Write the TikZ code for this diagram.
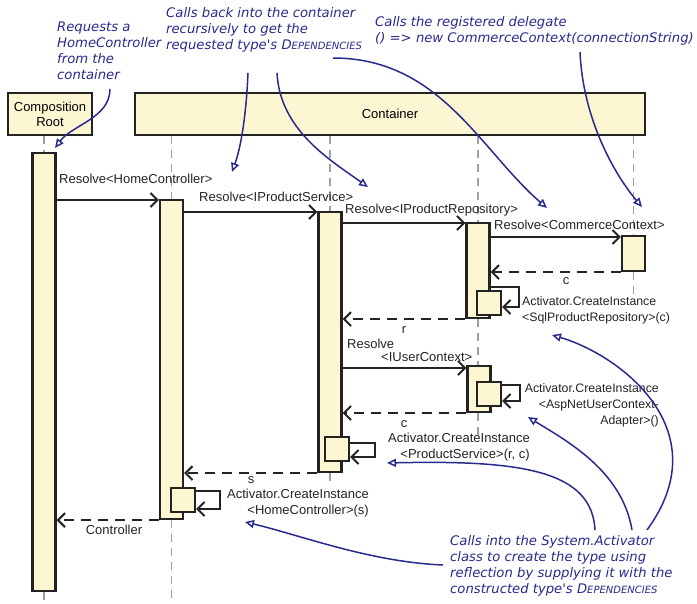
\documentclass[tikz,border=0pt]{standalone}
\usepackage{fontspec}
\setmainfont{Liberation Sans}
\newfontfamily\notefont{DejaVu Sans}
\usetikzlibrary{arrows.meta,positioning}

\definecolor{barfill}{RGB}{253,246,211}
\definecolor{notecol}{RGB}{40,42,140}
\definecolor{edgecol}{RGB}{35,35,35}

\newcommand{\Deps}{D{\fontsize{10}{10}\selectfont EPENDENCIES}}

\tikzset{
  head/.style={draw=edgecol, line width=2.4pt, fill=barfill, align=center, inner sep=0pt,
    font=\fontsize{13}{15}\selectfont},
  bar/.style={draw=edgecol, line width=2.2pt, fill=barfill, minimum width=23pt, inner sep=0pt},
  lifeline/.style={draw=gray!75, line width=1.6pt, dash pattern=on 8pt off 6pt},
  msg/.style={draw=edgecol, line width=2pt, -{Straight Barb[length=7pt,width=14pt]}},
  ret/.style={msg, dash pattern=on 10pt off 7pt},
  lbl/.style={font=\fontsize{13}{16}\selectfont, inner sep=0pt, text=edgecol},
  lblsm/.style={lbl, font=\fontsize{12.3}{16}\selectfont},
  note/.style={font=\notefont\itshape\fontsize{13.2}{16}\selectfont, text=notecol, align=left, inner sep=0pt},
  pointer/.style={draw=notecol, line width=1.5pt, -{Triangle[open,length=9pt,width=8pt]}}
}

\begin{document}
\begin{tikzpicture}[x=1pt, y=-1pt]
    \useasboundingbox (0,0) rectangle (697,604);

    % headers
    \node[head, minimum width=84pt, minimum height=42pt] (crhead) at (50,114) {Composition\\Root};
    \node[head, minimum width=510pt, minimum height=42pt] (conthead) at (390,114) {Container};

    % activation bars
    \node[bar, minimum height=438pt] (crbar) at (44,372) {};
    \node[bar, minimum height=319pt] (hcbar) at (171.5,359.5) {};
    \node[bar, minimum height=260pt] (psbar) at (330,342) {};
    \node[bar, minimum height=95pt] (prbar) at (478,270.5) {};
    \node[bar, minimum height=35pt] (ccbar) at (633.5,253.5) {};
    \node[bar, minimum height=46pt] (ucbar) at (479,389) {};

    % lifelines
    \draw[lifeline] (crbar.center |- crhead.south) -- (crbar.north);
    \draw[lifeline] (crbar.south) -- (crbar.center |- 0,604);
    \draw[lifeline] (hcbar.center |- conthead.south) -- (hcbar.north);
    \draw[lifeline] (hcbar.south) -- (hcbar.center |- 0,604);
    \draw[lifeline] (psbar.center |- conthead.south) -- (psbar.north);
    \draw[lifeline] (psbar.south) -- (psbar.center |- 0,485);
    \draw[lifeline] (prbar.center |- conthead.south) -- (prbar.north);
    \draw[lifeline] (prbar.south) -- (ucbar.north -| prbar.center);
    \draw[lifeline] (ucbar.south -| prbar.center) -- (prbar.center |- 0,437);
    \draw[lifeline] (ccbar.center |- conthead.south) -- (ccbar.north);
    \draw[lifeline] (ccbar.south) -- (ccbar.center |- 0,295);

    % self calls
    \node[bar, minimum width=24pt, minimum height=24pt] (prself) at (489,303) {};
    \node[bar, minimum width=24pt, minimum height=24pt] (ucself) at (489,394) {};
    \node[bar, minimum width=24pt, minimum height=24pt] (psself) at (337,449) {};
    \node[bar, minimum width=24pt, minimum height=24pt] (hcself) at (183,500) {};
    \draw[msg] (prbar.east |- 0,287) -- ++(28,0) -- ++(0,20) -- (prself.east |- 0,307);
    \draw[msg] (ucself.east |- 0,385) -- ++(18,0) -- ++(0,16) -- (ucself.east |- 0,401);
    \draw[msg] (psself.east |- 0,443) -- ++(25,0) -- ++(0,14) -- (psself.east |- 0,457);
    \draw[msg] (hcself.east |- 0,491) -- ++(24,0) -- ++(0,18) -- (hcself.east |- 0,509);

    % calls and returns
    \draw[msg] (crbar.east |- 0,200) -- (hcbar.west |- 0,200);
    \draw[msg] (hcbar.east |- 0,212) -- (psbar.west |- 0,212);
    \draw[msg] (psbar.east |- 0,223) -- (prbar.west |- 0,223);
    \draw[msg] (prbar.east |- 0,237) -- (ccbar.west |- 0,237);
    \draw[ret] (ccbar.south west) -- (prbar.east |- ccbar.south);
    \draw[ret] (prbar.south west) -- (psbar.east |- prbar.south);
    \draw[msg] (psbar.east |- 0,368) -- (ucbar.west |- 0,368);
    \draw[ret] (ucbar.west |- 0,413) -- (psbar.east |- 0,413);
    \draw[ret] (psbar.south west) -- (hcbar.east |- psbar.south);
    \draw[ret] (hcbar.south west) -- (crbar.east |- hcbar.south);

    % message labels
    \node[lbl, anchor=west] (l1) at (59,179) {Resolve<HomeController>};
    \node[lbl, anchor=west] (l2) at (199,197) {Resolve<IProductService>};
    \node[lbl, anchor=west] (l3) at (345,210) {Resolve<IProductRepository>};
    \node[lbl, anchor=west] (l4) at (494,225) {Resolve<CommerceContext>};
    \node[lbl] (lc1) at (566,281) {c};
    \node[lblsm, anchor=north west, align=left] (l5) at (522,296)
        {Activator.CreateInstance\\<SqlProductRepository>(c)};
    \node[lbl] (lr) at (404,330) {r};
    \node[lbl, anchor=west] (l6) at (347,344) {Resolve};
    \node[lbl, anchor=west] (l6b) at (381,357) {<IUserContext>};
    \node[lblsm, anchor=north east, align=right] (l7) at (659,383)
        {Activator.CreateInstance\\<AspNetUserContext-\\Adapter>()};
    \node[lbl] (lc2) at (404,424) {c};
    \node[lbl, anchor=north east, align=right] (l8) at (530,433)
        {Activator.CreateInstance\\<ProductService>(r, c)};
    \node[lbl] (ls) at (251,480) {s};
    \node[lbl, anchor=north east, align=right] (l9) at (369,489)
        {Activator.CreateInstance\\<HomeController>(s)};
    \node[lbl] (lctrl) at (114,530) {Controller};

    % annotations
    \node[note, anchor=north west] (n1) at (57,22) {Requests a\\HomeController\\from the\\container};
    \node[note, anchor=north west] (n2) at (166,7)
        {Calls back into the container\\recursively to get the\\requested type's \Deps};
    \node[note, anchor=north west] (n3) at (375,16)
        {Calls the registered delegate\\() => new CommerceContext(connectionString)};
    \node[note, anchor=north west] (n4) at (450,535)
        {Calls into the System.Activator\\class to create the type using\\reflection by supplying it with the\\constructed type's \Deps};

    \coordinate (n1out) at (110,89);
    \coordinate (n2outa) at (248,73);
    \coordinate (n2outb) at (277,73);
    \coordinate (n2outc) at (333,58);
    \coordinate (n3out) at (580,52);
    \coordinate (n4outa) at (443,565);
    \coordinate (n4outb) at (595,530);
    \coordinate (n4outc) at (632,530);
    \coordinate (n4outd) at (647,530);
    \coordinate (crtop) at (55,148);
    \coordinate (l2tip) at (232,172);
    \coordinate (l3tip) at (368,187);
    \coordinate (l4tip) at (547,208);
    \coordinate (cctip) at (642,207);
    \coordinate (l9tip) at (245,522);
    \coordinate (l8tip) at (387,463);
    \coordinate (l7tip) at (528,417);
    \coordinate (l5tip) at (552,335);

    \draw[pointer] (n1out) .. controls (110,118) and (72,125) .. (crtop);
    \draw[pointer] (n2outa) .. controls (246,120) and (240,150) .. (l2tip);
    \draw[pointer] (n2outb) .. controls (280,130) and (330,160) .. (l3tip);
    \draw[pointer] (n2outc) .. controls (440,58) and (480,150) .. (l4tip);
    \draw[pointer] (n3out) .. controls (583,120) and (615,175) .. (cctip);
    \draw[pointer] (n4outa) .. controls (370,562) and (300,535) .. (l9tip);
    \draw[pointer] (n4outb) .. controls (592,470) and (520,460) .. (l8tip);
    \draw[pointer] (n4outc) .. controls (622,470) and (565,440) .. (l7tip);
    \draw[pointer] (n4outd) .. controls (720,430) and (620,355) .. (l5tip);
\end{tikzpicture}
\end{document}
